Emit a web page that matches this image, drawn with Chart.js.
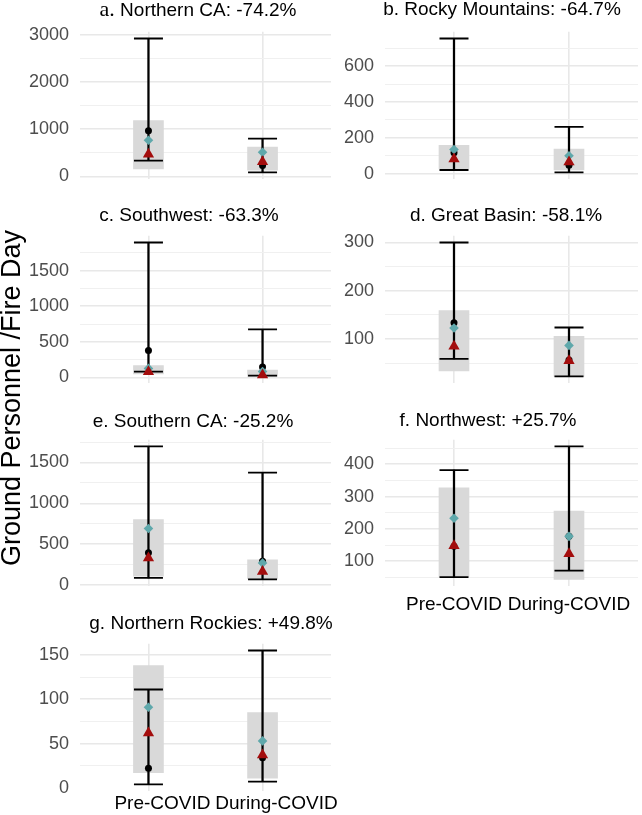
<!DOCTYPE html>
<html>
<head>
<meta charset="utf-8">
<script src="https://cdn.jsdelivr.net/npm/chart.js@4.4.0/dist/chart.umd.min.js"></script>
<style>
  body { margin: 0; background: #fff; }
  #wrap {
    position: relative; width: 642px; height: 815px; overflow: hidden;
    font-family: "Liberation Sans", Arial, sans-serif;
  }
  #wrap canvas { position: absolute; z-index: 1; }
  .title {
    position: absolute; width: 320px; text-align: center; white-space: nowrap;
    font-size: 19px; line-height: 20px; color: #000; z-index: 2;
  }
  .title .lead { font-family: "Liberation Serif", "Times New Roman", serif; font-size: 22px; }
  #ylab {
    position: absolute; width: 420px; height: 30px; line-height: 30px;
    left: -199px; top: 383px; text-align: center; white-space: nowrap;
    font-size: 27px; color: #000; transform: rotate(-90deg); z-index: 2;
  }
</style>
</head>
<body>
<div id="wrap">
  <div id="ylab">Ground Personnel /Fire Day</div>
</div>
<script>
const periods = ["Pre-COVID", "During-COVID"];
const panelTitles = [
  "a. Northern CA: -74.2%",
  "b. Rocky Mountains: -64.7%",
  "c. Southwest: -63.3%",
  "d. Great Basin: -58.1%",
  "e. Southern CA: -25.2%",
  "f. Northwest: +25.7%",
  "g. Northern Rockies: +49.8%"
];

// [Pre-COVID, During-COVID] for each region
const boxLow = [[160, 133], [28, 21], [49, 17], [34, 23], [107, 76], [53, 44], [17, 11]];
const boxHigh = [[1180, 620], [158, 138], [168, 106], [159, 106], [800, 307], [327, 255], [138, 85]];
const whiskerLow = [[333, 87], [21, 8], [84, 27], [59, 23], [88, 69], [51, 71], [4, 7]];
const whiskerHigh = [[2920, 800], [754, 261], [1895, 676], [300, 124], [1696, 1376], [382, 455], [111, 155]];
const blackDots = [[967, 233], [117, 47], [380, 146], [134, 57], [396, 292], [146, 177], [22, 34]];
const tealDiamonds = [[767, 513], [135, 100], [128, 84], [123, 87], [692, 269], [233, 177], [91, 53]];
const redTriangles = [[467, 313], [82, 65], [80, 36], [85, 55], [330, 165], [148, 123], [62, 37]];
const majorSteps = [1000, 200, 500, 100, 500, 100, 50];

// where each panel sits on the page (plot area runs from left+80 to plotRight)
const panelLayout = [
  { left: 0, top: 22, h: 157, w: 335, plotRight: 331, titleX: 198, titleY: 9 },
  { left: 305, top: 22, h: 157, w: 337, plotRight: 638, titleX: 502, titleY: 9 },
  { left: 0, top: 226, h: 157, w: 335, plotRight: 331, titleX: 189, titleY: 215 },
  { left: 305, top: 226, h: 157, w: 337, plotRight: 638, titleX: 506, titleY: 215 },
  { left: 0, top: 430, h: 156, w: 335, plotRight: 331, titleX: 193, titleY: 421 },
  { left: 305, top: 430, h: 156, w: 337, plotRight: 638, titleX: 488, titleY: 420,
    xLabels: true, labelPad: 7, labelShift: 0 },
  { left: 0, top: 634, h: 157, w: 360, plotRight: 331, titleX: 211, titleY: 623,
    xLabels: true, labelPad: 1, labelShift: 14, hideZeroGrid: true }
];

const wrap = document.getElementById("wrap");

function addTitle(i) {
  const lay = panelLayout[i];
  const div = document.createElement("div");
  div.className = "title";
  div.style.left = lay.titleX - 160 + "px";
  div.style.top = lay.titleY - 10 + "px";
  if (i === 0) {
    const lead = document.createElement("span");
    lead.className = "lead";
    lead.textContent = "a.";
    div.appendChild(lead);
    div.appendChild(document.createTextNode(panelTitles[i].slice(2)));
  } else {
    div.textContent = panelTitles[i];
  }
  wrap.appendChild(div);
}

function makePanel(i) {
  const lay = panelLayout[i];
  const major = majorSteps[i];
  const minor = major / 2;

  const canvas = document.createElement("canvas");
  canvas.width = lay.w;
  canvas.height = lay.h + 12 + 36;
  canvas.style.left = lay.left + "px";
  canvas.style.top = lay.top - 12 + "px";
  wrap.appendChild(canvas);

  const pts = (arr) => [{ x: 1, y: arr[i][0] }, { x: 2, y: arr[i][1] }];
  const bars = (lo, hi) => [
    { x: 1, y: [lo[i][0], hi[i][0]] },
    { x: 2, y: [lo[i][1], hi[i][1]] }
  ];

  const all = [boxLow, boxHigh, whiskerLow, whiskerHigh, blackDots, tealDiamonds, redTriangles]
    .flatMap((a) => a[i]);
  const lo = Math.min(...all);
  const hi = Math.max(...all);
  const pad = (hi - lo) * 0.05;

  const gridColor = (ctx) => {
    if (!ctx.tick) return "#f0f0f0";
    if (lay.hideZeroGrid && ctx.tick.value === 0) return "rgba(0,0,0,0)";
    return ctx.tick.value % major === 0 ? "#e8e8e8" : "#f0f0f0";
  };

  new Chart(canvas.getContext("2d"), {
    type: "bar",
    data: {
      datasets: [
        {
          type: "bar",
          data: bars(boxLow, boxHigh),
          backgroundColor: "#d9d9d9",
          barThickness: 30,
          grouped: false,
          order: 6
        },
        {
          type: "bar",
          data: bars(whiskerLow, whiskerHigh),
          backgroundColor: "#000000",
          barThickness: 1.6,
          grouped: false,
          order: 5
        },
        {
          type: "scatter",
          data: [...pts(whiskerLow), ...pts(whiskerHigh)],
          pointStyle: "line",
          pointRadius: 14.5,
          pointBorderColor: "#000000",
          pointBorderWidth: 1.8,
          order: 4
        },
        {
          type: "scatter",
          data: pts(blackDots),
          pointStyle: "circle",
          pointRadius: 3.5,
          pointBackgroundColor: "#000000",
          pointBorderWidth: 0,
          order: 3
        },
        {
          type: "scatter",
          data: pts(tealDiamonds),
          pointStyle: "rectRot",
          pointRadius: 4.8,
          pointBackgroundColor: "#5fa8ab",
          pointBorderWidth: 0,
          order: 2
        },
        {
          type: "scatter",
          data: pts(redTriangles),
          pointStyle: "triangle",
          pointRadius: 6.5,
          pointBackgroundColor: "#a30d0d",
          pointBorderWidth: 0,
          order: 1
        }
      ]
    },
    options: {
      responsive: false,
      animation: false,
      devicePixelRatio: 1,
      layout: {
        autoPadding: false,
        padding: { top: 12, right: lay.left + lay.w - lay.plotRight, bottom: 0, left: 0 }
      },
      plugins: { legend: { display: false }, tooltip: { enabled: false } },
      scales: {
        x: {
          type: "linear",
          min: 0.4,
          max: 2.6,
          offset: false,
          afterBuildTicks: (scale) => {
            scale.ticks = [{ value: 1 }, { value: 2 }];
          },
          afterFit: (scale) => {
            scale.height = 36;
          },
          grid: { offset: false, drawTicks: false, color: "#e8e8e8", lineWidth: 1.6 },
          border: { display: false },
          ticks: {
            display: !!lay.xLabels,
            padding: lay.labelPad || 0,
            labelOffset: lay.labelShift || 0,
            color: "#000000",
            font: { family: "Liberation Sans", size: 19 },
            maxRotation: 0,
            autoSkip: false,
            callback: (value) => periods[value - 1]
          }
        },
        y: {
          min: lo - pad,
          max: hi + pad,
          afterBuildTicks: (scale) => {
            const ticks = [];
            for (let v = Math.ceil(scale.min / minor) * minor; v <= scale.max; v += minor) {
              ticks.push({ value: v });
            }
            scale.ticks = ticks;
          },
          afterFit: (scale) => {
            scale.width = 80;
          },
          grid: {
            drawTicks: false,
            color: gridColor,
            lineWidth: (ctx) => (ctx.tick && ctx.tick.value % major === 0 ? 1.6 : 1)
          },
          border: { display: false },
          ticks: {
            padding: 11,
            color: "#4d4d4d",
            font: { family: "Liberation Sans", size: 18 },
            autoSkip: false,
            callback: (value) => (value % major === 0 ? String(value) : "")
          }
        }
      }
    }
  });

  addTitle(i);
}

panelTitles.forEach((t, i) => makePanel(i));
</script>
</body>
</html>
